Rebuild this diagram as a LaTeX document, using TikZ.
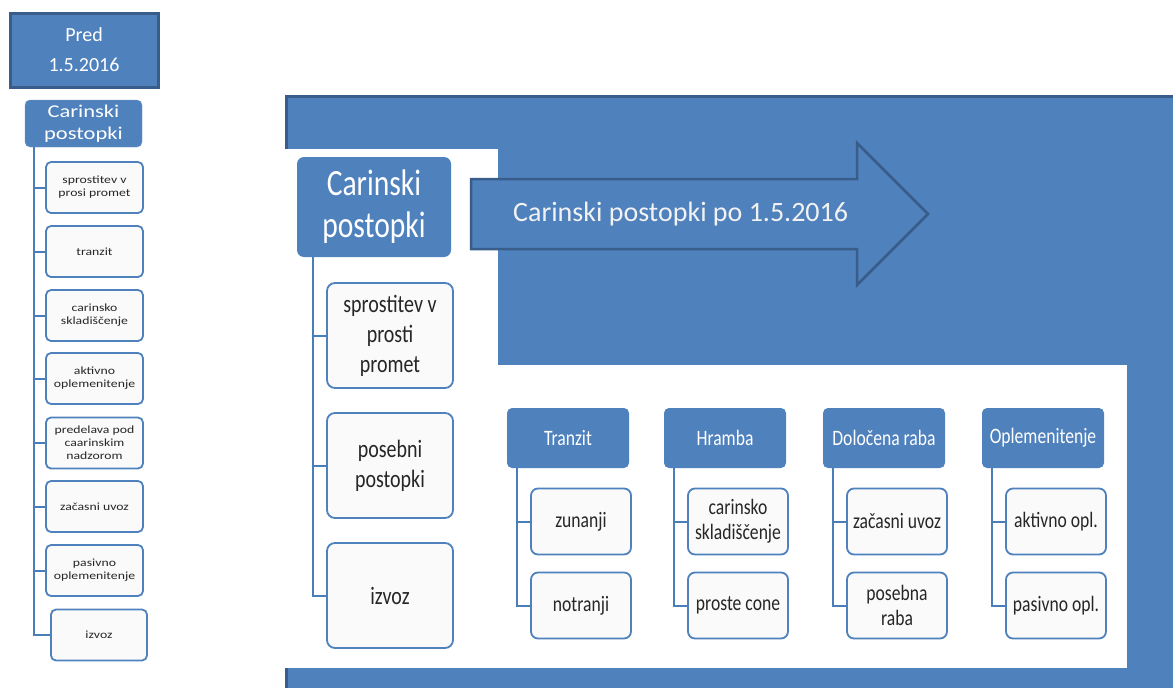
\documentclass[tikz,border=0pt]{standalone}
\usepackage{fontspec}
\setmainfont{Carlito}
\newfontfamily\tallfont[FakeStretch=0.8]{Carlito}
\newfontfamily\widefont[FakeStretch=1.25]{Carlito}
\usepackage{tikz}
\usetikzlibrary{calc}
\definecolor{hdrblue}{HTML}{4F81BD}
\definecolor{edgeblue}{HTML}{385D8A}
\definecolor{treeblue}{HTML}{4A7EBB}
\definecolor{boxtext}{HTML}{262626}
\tikzset{
  datebox/.style={draw=edgeblue, line width=3pt, fill=hdrblue, text=white, align=center,
                  minimum width=148pt, minimum height=74pt, inner sep=2pt,
                  font=\fontsize{20}{30}\selectfont},
  oldhead/.style={rounded corners=5pt, draw=hdrblue!80!white, fill=hdrblue, text=white,
                  align=center, minimum width=117pt, minimum height=47pt, inner sep=1pt,
                  font={\widefont\fontsize{18}{22}\selectfont}},
  oldbox/.style={rounded corners=5pt, draw=hdrblue, line width=1.8pt, fill=black!2,
                 text=boxtext, align=center, minimum width=97pt, minimum height=51pt,
                 inner sep=1pt, font={\widefont\fontsize{11}{13}\selectfont}},
  newhead/.style={rounded corners=7pt, fill=hdrblue, text=white, align=center,
                  minimum width=154pt, minimum height=100pt, inner sep=1pt,
                  font={\tallfont\fontsize{37}{42}\selectfont}},
  newbox/.style={rounded corners=8pt, draw=hdrblue, line width=1.8pt, fill=black!2,
                 text=boxtext, align=center, minimum width=126pt, minimum height=105pt,
                 inner sep=1pt, font={\tallfont\fontsize{25}{30}\selectfont}},
  grouphead/.style={rounded corners=5pt, fill=hdrblue, text=white, align=center,
                    minimum width=122pt, minimum height=60pt, inner sep=1pt,
                    font={\tallfont\fontsize{22}{25}\selectfont}},
  groupbox/.style={rounded corners=7pt, draw=hdrblue, line width=1.8pt, fill=black!2,
                   text=boxtext, align=center, minimum width=100pt, minimum height=66pt,
                   inner sep=1pt, font={\tallfont\fontsize{22}{25}\selectfont}},
  treeline/.style={draw=treeblue, line width=2pt},
  arrowtext/.style={text=white!95!black, inner sep=0pt, font=\fontsize{28}{30}\selectfont},
}
\begin{document}
\begin{tikzpicture}[x=1pt,y=-1pt]
\useasboundingbox (0,0) rectangle (1173,688);
% blue backdrop of the new scheme
\fill[hdrblue] (285,95) rectangle (1173,688);
\draw[edgeblue, line width=3pt] (286.5,688) -- (286.5,96.5) -- (1173,96.5);
\fill[white] (284,149) rectangle (498,668);
\fill[white] (498,365) rectangle (1127,668);
\draw[edgeblue, line width=2.5pt, fill=hdrblue] (471,179) -- (857,179) -- (857,143)
  -- (928,214) -- (857,285) -- (857,249) -- (471,249) -- cycle;
\node[arrowtext, anchor=west] (arrtxt) at (513,214) {Carinski postopki po 1.5.2016};
% before 1.5.2016
\node[datebox] (pred) at (84,50) {Pred\\1.5.2016};
\node[oldhead] (lh) at (83.5,123.5) {Carinski\\postopki};
\node[oldbox] (l1) at (94.5,187.5) {sprostitev v\\prosi promet};
\node[oldbox] (l2) at (94.5,251.5) {tranzit};
\node[oldbox] (l3) at (94.5,315.5) {carinsko\\skladiščenje};
\node[oldbox] (l4) at (94.5,378.5) {aktivno\\oplemenitenje};
\node[oldbox] (l5) at (94.5,443) {predelava pod\\caarinskim\\nadzorom};
\node[oldbox] (l6) at (94.5,506.5) {začasni uvoz};
\node[oldbox] (l7) at (94.5,570.5) {pasivno\\oplemenitenje};
\node[oldbox, minimum width=96pt] (l8) at (99,635) {izvoz};
\foreach \n in {l1,l2,l3,l4,l5,l6,l7,l8}
  \draw[treeline] ([xshift=9pt]lh.south west) |- (\n.west);
% after 1.5.2016
\node[newhead] (mh) at (374,207) {Carinski\\postopki};
\node[newbox] (m1) at (390,335.5) {sprostitev v\\prosti\\promet};
\node[newbox] (m2) at (390,465.5) {posebni\\postopki};
\node[newbox] (m3) at (390,595.5) {izvoz};
\foreach \n in {m1,m2,m3}
  \draw[treeline] ([xshift=16pt]mh.south west) |- (\n.west);
\node[grouphead] (g1) at (568,438) {Tranzit};
\node[grouphead] (g2) at (725,438) {Hramba};
\node[grouphead] (g3) at (884,438) {Določena raba};
\node[grouphead] (g4) at (1043,438) {Oplemenitenje};
\node[groupbox] (g1a) at (581,521.5) {zunanji};
\node[groupbox] (g1b) at (581,605.5) {notranji};
\node[groupbox] (g2a) at (738,521.5) {carinsko\\skladiščenje};
\node[groupbox] (g2b) at (738,605.5) {proste cone};
\node[groupbox] (g3a) at (897,521.5) {začasni uvoz};
\node[groupbox] (g3b) at (897,605.5) {posebna\\raba};
\node[groupbox] (g4a) at (1056,521.5) {aktivno opl.};
\node[groupbox] (g4b) at (1056,605.5) {pasivno opl.};
\foreach \g in {g1,g2,g3,g4} {
  \draw[treeline] ([xshift=10pt]\g.south west) |- (\g a.west);
  \draw[treeline] ([xshift=10pt]\g.south west) |- (\g b.west);
}
\end{tikzpicture}
\end{document}
